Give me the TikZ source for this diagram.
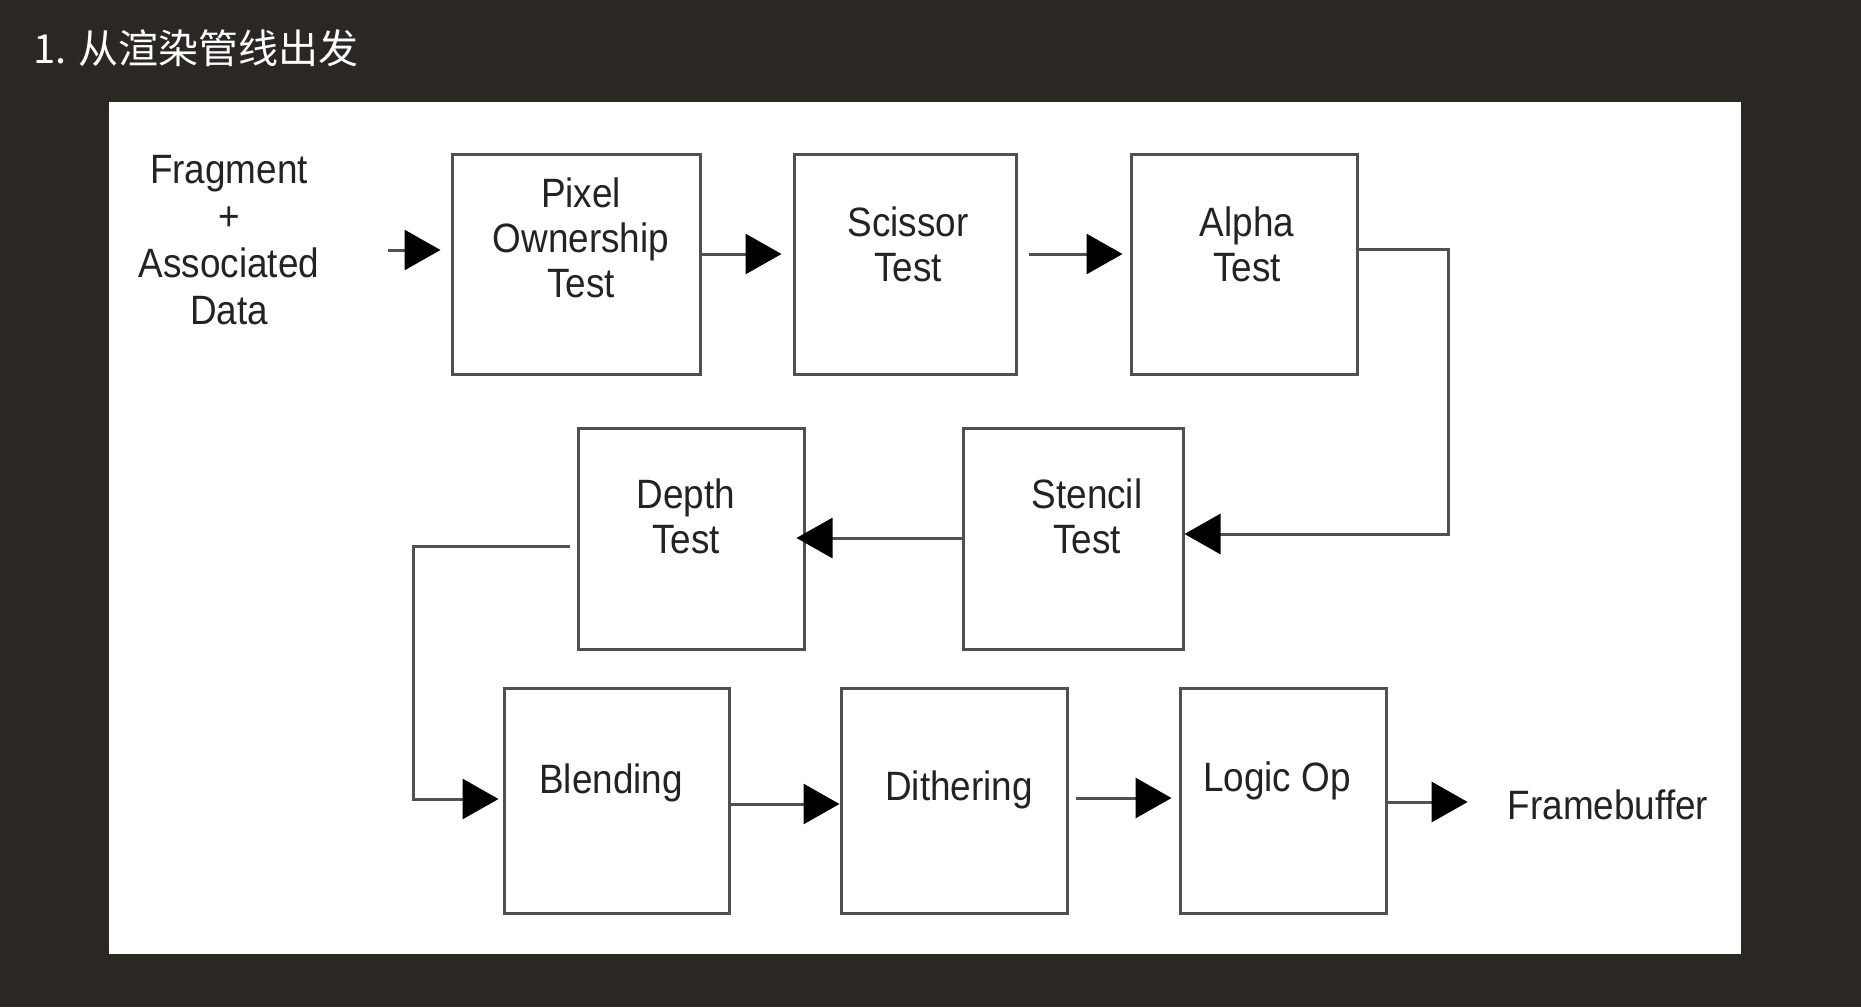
\documentclass[tikz,border=0pt]{standalone}
\usepackage{fontspec}
\setmainfont[FakeStretch=0.9]{Liberation Sans}
\newfontfamily\cjkfont{Noto Sans CJK SC}
\usetikzlibrary{arrows.meta}
\definecolor{bgdark}{RGB}{43,40,35}
\definecolor{linegray}{RGB}{80,80,80}
\definecolor{inkdark}{RGB}{35,35,35}
\begin{document}
\begin{tikzpicture}[x=1pt,y=-1pt,
  stagebox/.style={draw=linegray, line width=3pt, fill=white, inner sep=0pt},
  lbl/.style={inner sep=0pt, align=center, text=inkdark, font=\fontsize{41}{45}\selectfont},
  arr/.style={draw=linegray, line width=3pt, -{Triangle[length=36pt,width=40pt,color=black]}}]
\useasboundingbox (0,0) rectangle (1861,1007);
\fill[bgdark] (0,0) rectangle (1861,1007);
\fill[white] (109,102) rectangle (1741,954);
\node[anchor=base west, inner sep=0pt, text=white, font=\cjkfont\fontsize{40}{48}\selectfont] (title) at (33,63) {1. 从渲染管线出发};
% boxes
\node[stagebox, minimum width=248pt, minimum height=220pt] (pix) at (576,264) {};
\node[stagebox, minimum width=222pt, minimum height=220pt] (sci) at (905,264) {};
\node[stagebox, minimum width=226pt, minimum height=220pt] (alp) at (1244,264) {};
\node[stagebox, minimum width=226pt, minimum height=221pt] (dep) at (691,538.5) {};
\node[stagebox, minimum width=220pt, minimum height=221pt] (ste) at (1073,538.5) {};
\node[stagebox, minimum width=225pt, minimum height=225pt] (ble) at (616.5,800.5) {};
\node[stagebox, minimum width=226pt, minimum height=225pt] (dit) at (954,800.5) {};
\node[stagebox, minimum width=206pt, minimum height=225pt] (log) at (1283,800.5) {};
% texts
\node[lbl, font=\fontsize{41}{47}\selectfont] (frag) at (229,240) {Fragment\\+\\Associated\\Data};
\node[lbl] (pixt) at (581,238) {Pixel\\Ownership\\Test};
\node[lbl] (scit) at (908,244) {Scissor\\Test};
\node[lbl] (alpt) at (1247,244) {Alpha\\Test};
\node[lbl] (dept) at (686,516) {Depth\\Test};
\node[lbl] (stet) at (1087,516) {Stencil\\Test};
\node[lbl] (blet) at (611,783) {Blending};
\node[lbl] (ditt) at (959,790) {Dithering};
\node[lbl] (logt) at (1277,781) {Logic Op};
\node[lbl] (fb) at (1608,805) {Framebuffer};
% connectors
\coordinate (fragout) at (388,250);
\draw[arr, shorten >=10pt] (fragout) -- (pix.west |- fragout);
\draw[arr, shorten >=11pt] (pix.east |- 0,254) -- (sci.west |- 0,254);
\draw[arr, shorten <=11pt, shorten >=7pt] (sci.east |- 0,254) -- (alp.west |- 0,254);
\coordinate (turnA) at (1448,534);
\draw[arr] (alp.east |- 0,249) -| (turnA) -- (ste.east |- turnA);
\draw[arr, shorten >=-9pt] (ste.west |- 0,538) -- (dep.east |- 0,538);
\coordinate (turnD) at (413,799);
\draw[arr, shorten <=7pt, shorten >=4pt] (dep.west |- 0,546) -| (turnD) -- (ble.west |- turnD);
\draw[arr] (ble.east |- 0,804) -- (dit.west |- 0,804);
\draw[arr, shorten <=7pt, shorten >=7pt] (dit.east |- 0,798) -- (log.west |- 0,798);
\draw[arr, shorten >=40pt] (log.east |- 0,802) -- (fb.west |- 0,802);
\end{tikzpicture}
\end{document}
